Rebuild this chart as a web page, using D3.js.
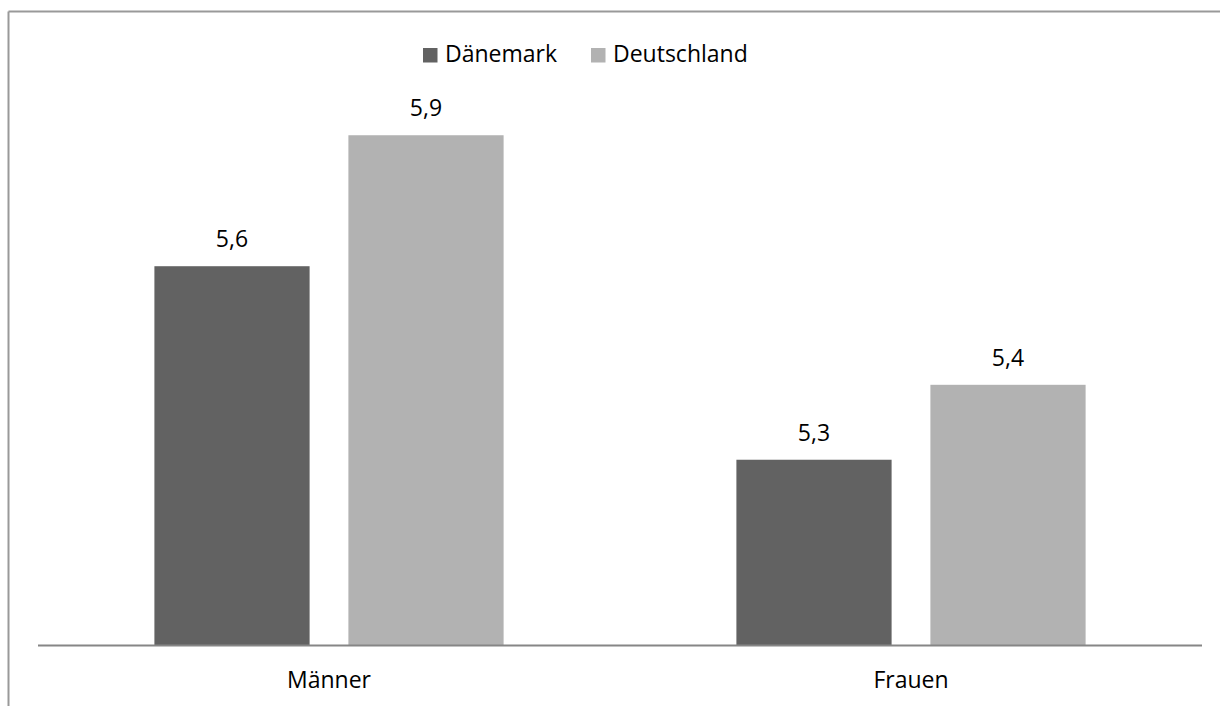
<!DOCTYPE html>
<html><head><meta charset="utf-8">
<script src="https://cdn.jsdelivr.net/npm/d3@7"></script>
<style>html,body{margin:0;padding:0;background:#fff;}svg{display:block;}</style>
</head><body>
<script>
const categories = ["Männer", "Frauen"];
const seriesNames = ["Dänemark", "Deutschland"];
const daenemark = [5.642, 5.314];
const deutschland = [5.864, 5.441];
const seriesColors = ["#626262", "#b2b2b2"];
const yDomain = [5, 6];

const W = 1220, H = 706;
const font = "'Open Sans', sans-serif";
const svg = d3.select("body").append("svg").attr("width", W).attr("height", H);

// chart border (top and left visible)
svg.append("line").attr("x1", 8.5).attr("x2", W).attr("y1", 11.5).attr("y2", 11.5)
  .attr("stroke", "#999").attr("stroke-width", 2);
svg.append("line").attr("x1", 8.5).attr("x2", 8.5).attr("y1", 11.5).attr("y2", H)
  .attr("stroke", "#999").attr("stroke-width", 2);

const plot = {left: 38, right: 1202, top: 55, bottom: 645};
const x0 = d3.scaleBand().domain(categories).range([plot.left, plot.right]).paddingInner(0).paddingOuter(0);
const y = d3.scaleLinear().domain(yDomain).range([plot.bottom, plot.top]);

// band layout: gap width 150%, overlap -25%
const bandW = x0.bandwidth();
const barW = bandW / (2 + 0.25 + 1.5);
const gapBetween = barW * 0.25;
const groupW = barW * 2 + gapBetween;
const x1 = d3.scaleOrdinal().domain(seriesNames).range([0, barW + gapBetween]);

const data = [];
categories.forEach((c, i) => {
  data.push({cat: c, series: seriesNames[0], value: daenemark[i]});
  data.push({cat: c, series: seriesNames[1], value: deutschland[i]});
});
const color = d3.scaleOrdinal().domain(seriesNames).range(seriesColors);
const fmt = v => d3.format(".1f")(v).replace(".", ",");

svg.append("g").selectAll("rect").data(data).join("rect")
  .attr("x", d => x0(d.cat) + (bandW - groupW) / 2 + x1(d.series))
  .attr("y", d => y(d.value))
  .attr("width", barW)
  .attr("height", d => plot.bottom - y(d.value))
  .attr("fill", d => color(d.series));

svg.append("g").selectAll("text").data(data).join("text")
  .attr("x", d => x0(d.cat) + (bandW - groupW) / 2 + x1(d.series) + barW / 2)
  .attr("y", d => y(d.value) - 19)
  .attr("text-anchor", "middle")
  .attr("font-family", font).attr("font-size", 23).attr("fill", "#000")
  .text(d => fmt(d.value));

// x axis
const xAxis = svg.append("g").attr("transform", `translate(0,${plot.bottom})`)
  .call(d3.axisBottom(x0).tickSize(0).tickPadding(0));
xAxis.select(".domain").attr("stroke", "#868686").attr("stroke-width", 2)
  .attr("d", `M${plot.left},0.5H${plot.right}`);
xAxis.selectAll(".tick text").attr("font-family", font).attr("font-size", 23)
  .attr("fill", "#000").attr("dy", null).attr("y", 43);

// legend
const legendX = [423, 591];
const lg = svg.append("g").selectAll("g").data(seriesNames).join("g")
  .attr("transform", (d, i) => `translate(${legendX[i]},48)`);
lg.append("rect").attr("width", 14.5).attr("height", 14.5).attr("fill", d => color(d));
lg.append("text").attr("x", 22).attr("y", 14).attr("font-family", font)
  .attr("font-size", 23).attr("fill", "#000").text(d => d);
</script>
</body></html>
